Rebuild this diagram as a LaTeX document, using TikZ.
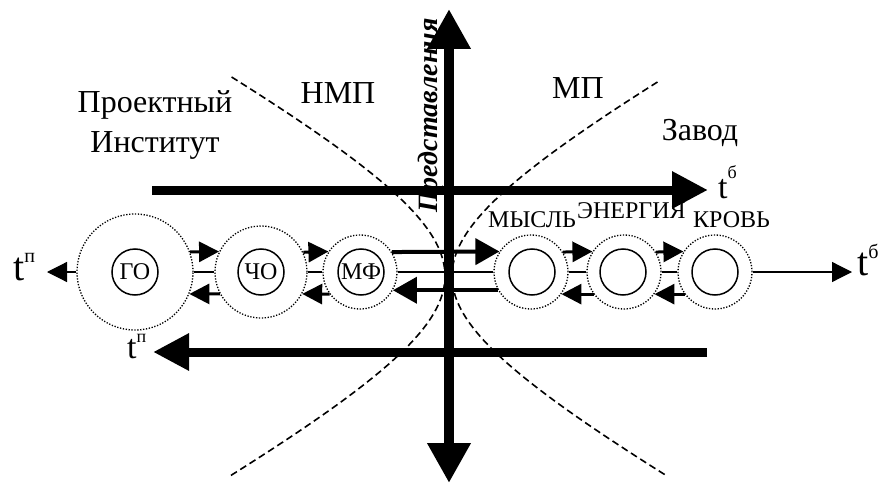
\documentclass[tikz,border=0pt]{standalone}
\usepackage{fontspec}
\setmainfont{Liberation Serif}[Ligatures=TeX]
\usetikzlibrary{arrows.meta}
\begin{document}
\begin{tikzpicture}[x=1pt,y=-1pt,
  heavy/.style={line width=9pt,-{Triangle[length=36pt,width=35pt]}},
  vert/.style={line width=10pt,{Triangle[length=40pt,width=41pt]}-{Triangle[length=40pt,width=41pt]}},
  medarr/.style={line width=4pt,-{Triangle[length=24pt,width=26pt]}},
  smallarr/.style={line width=3pt,-{Triangle[length=20pt,width=20pt]}},
  thinarr/.style={line width=1.2pt,-{Triangle[length=20pt,width=20pt]}},
  thinline/.style={line width=1.2pt},
  dotc/.style={circle,draw,line width=1.3pt,dash pattern=on 1.3pt off 1.6pt,inner sep=0pt},
  inc/.style={circle,draw,line width=1.5pt,inner sep=0pt,minimum size=46pt,font=\fontsize{24}{24}\selectfont},
  dashline/.style={line width=1.6pt,dash pattern=on 7pt off 4pt},
  lbl/.style={inner sep=0pt,anchor=base},
  big/.style={font=\fontsize{32}{32}\selectfont},
  mid/.style={font=\fontsize{24}{24}\selectfont}]
\useasboundingbox (0,0) rectangle (880,484);
\fill[white] (0,0) rectangle (880,484);

% dashed hyperbola branches
\draw[dashline] plot[domain=77:476,samples=120,variable=\t]
  ({445-200*(sqrt(1+((\t-276)/110)^2)-1)},{\t});
\draw[dashline] plot[domain=82:476,samples=120,variable=\t]
  ({452+200*(sqrt(1+((\t-276)/110)^2)-1)},{\t});

% labels of regions
\node[lbl,big] (pi1) at (155,113) {Проектный};
\node[lbl,big] (pi2) at (155,152) {Институт};
\node[lbl,big] (nmp) at (338,103) {НМП};
\node[lbl,big] (mp) at (578,99) {МП};
\node[lbl,big] (zav) at (700,140) {Завод};

% circles
\node[dotc,minimum size=116pt] (go) at (135,272) {};
\node[dotc,minimum size=92pt] (cho) at (261,272) {};
\node[dotc,minimum size=74pt] (mf) at (360,272) {};
\node[dotc,minimum size=74pt] (my) at (531,272) {};
\node[dotc,minimum size=74pt] (en) at (624,272) {};
\node[dotc,minimum size=74pt] (kr) at (715,272) {};
\node[inc] (goi) at (135,272) {ГО};
\node[inc] (choi) at (261,272) {ЧО};
\node[inc] (mfi) at (361,272) {МФ};
\node[inc] (myi) at (532,272) {};
\node[inc] (eni) at (623,272) {};
\node[inc] (kri) at (715,272) {};

\node[lbl,mid,anchor=base west] (lmy) at (488,227) {МЫСЛЬ};
\node[lbl,mid,anchor=base west] (len) at (577,218) {ЭНЕРГИЯ};
\node[lbl,mid,anchor=base west] (lkr) at (693,227) {КРОВЬ};

% thin connecting lines
\draw[thinline] (go.east) -- (cho.west);
\draw[thinline] (cho.east) -- (mf.west);
\draw[thinline] (mf.east) -- (my.west);
\draw[thinline] (my.east) -- (en.west);
\draw[thinline] (en.east) -- (kr.west);
\coordinate (lt) at (47,272);
\coordinate (rt) at (852,272);
\draw[thinarr] (go.west) -- (lt);
\draw[thinarr] (kr.east) -- (rt);

% small arrows
\draw[smallarr] (go.20.17) -- (cho.154.23);
\draw[smallarr] (cho.25.77) -- (mf.147.28);
\draw[smallarr] (my.32.72) -- (en.147.28);
\draw[smallarr] (en.32.72) -- (kr.147.28);
\draw[smallarr] (cho.208.57) -- (go.-22.29);
\draw[smallarr] (mf.216.49) -- (cho.-28.57);
\draw[smallarr] (en.216.49) -- (my.-36.49);
\draw[smallarr] (kr.216.49) -- (en.-36.49);
% medium arrows
\draw[medarr] (mf.32.72) -- (my.147.28);
\draw[medarr] (my.209.11) -- (mf.-29.11);

% heavy axes
\coordinate (ua) at (152,190);
\coordinate (ub) at (708,190);
\coordinate (la) at (707,352);
\coordinate (lb) at (153,352);
\coordinate (vt) at (449,9);
\coordinate (vb) at (449,483);
\draw[heavy] (ua) -- (ub);
\draw[heavy] (la) -- (lb);
\draw[vert] (vb) -- (vt);

\node[rotate=90,anchor=base west,inner sep=0pt,font=\bfseries\itshape\fontsize{28}{28}\selectfont] (pr) at (437,213) {Представления};

% t labels
\node[lbl,anchor=base west,font=\fontsize{40}{40}\selectfont] (tl) at (13,280) {t\raisebox{18pt}{\fontsize{20}{20}\selectfont п}};
\node[lbl,anchor=base west,font=\fontsize{40}{40}\selectfont] (tr) at (857,275) {t\raisebox{17pt}{\fontsize{20}{20}\selectfont б}};
\node[lbl,anchor=base west,font=\fontsize{34}{34}\selectfont] (tu) at (718,198) {t\raisebox{20pt}{\fontsize{18}{18}\selectfont б}};
\node[lbl,anchor=base west,font=\fontsize{34}{34}\selectfont] (tlo) at (127,358) {t\raisebox{16pt}{\fontsize{18}{18}\selectfont п}};
\end{tikzpicture}
\end{document}
